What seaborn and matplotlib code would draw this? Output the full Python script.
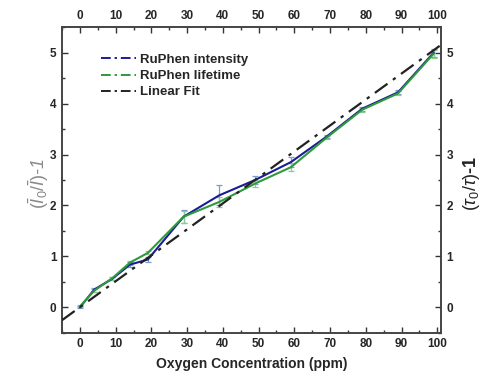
import matplotlib
matplotlib.use("Agg")
import matplotlib.pyplot as plt
import seaborn as sns
import numpy as np
import pandas as pd
from matplotlib.lines import Line2D
from matplotlib.ticker import MultipleLocator

# ---- data ----
oxygen_ppm = [0, 4, 9, 14, 19, 29, 39, 49, 59, 69, 79, 89, 99]
intensity = [0.0, 0.35, 0.56, 0.84, 0.94, 1.78, 2.20, 2.50, 2.85, 3.35, 3.90, 4.22, 5.00]
intensity_err = [0.02, 0.04, 0.03, 0.05, 0.04, 0.13, 0.20, 0.08, 0.10, 0.03, 0.04, 0.04, 0.08]
lifetime = [0.02, 0.33, 0.57, 0.88, 1.07, 1.78, 2.07, 2.43, 2.75, 3.33, 3.88, 4.20, 4.98]
lifetime_err = [0.02, 0.03, 0.03, 0.04, 0.03, 0.12, 0.10, 0.07, 0.08, 0.03, 0.04, 0.04, 0.08]
fit_x = [-5, 101]
fit_y = [-0.25, 5.15]
x_ticks = [0, 10, 20, 30, 40, 50, 60, 70, 80, 90, 100]
y_ticks = [0, 1, 2, 3, 4, 5]

sns.set_theme(style="ticks")
plt.rcParams['font.family'] = ['Liberation Sans', 'DejaVu Sans']
plt.rcParams['mathtext.fontset'] = 'custom'
plt.rcParams['mathtext.it'] = 'Liberation Sans:italic'
plt.rcParams['mathtext.rm'] = 'Liberation Sans'
plt.rcParams['mathtext.bf'] = 'Liberation Sans:bold'

fig = plt.figure(figsize=(4.85, 3.77), dpi=100)
ax = fig.add_axes([0.128, 0.117, 0.781, 0.811])

blue = "#1c1c96"
green = "#2e9a3a"

df = pd.DataFrame({"x": oxygen_ppm, "intensity": intensity, "lifetime": lifetime})

ax.errorbar(oxygen_ppm, intensity, yerr=intensity_err, fmt="none",
            ecolor="#7a9ad0", elinewidth=0.9, capsize=2.5, capthick=0.9, zorder=2)
ax.errorbar(oxygen_ppm, lifetime, yerr=lifetime_err, fmt="none",
            ecolor="#8ac89a", elinewidth=0.9, capsize=2.5, capthick=0.9, zorder=2)

sns.lineplot(data=df, x="x", y="intensity", ax=ax, color=blue, linewidth=1.5,
             zorder=3, legend=False)
sns.lineplot(data=df, x="x", y="lifetime", ax=ax, color=green, linewidth=1.5,
             zorder=3, legend=False)
sns.lineplot(x=fit_x, y=fit_y, ax=ax, color="#222222", linewidth=1.6,
             dashes=False, zorder=4, legend=False)
ax.lines[-1].set_dashes([7, 3, 1.5, 3])

ax.set_xlim(-5, 101)
ax.set_ylim(-0.5, 5.5)
ax.set_xticks(x_ticks)
ax.set_yticks(y_ticks)
ax.xaxis.set_minor_locator(MultipleLocator(5))
ax.yaxis.set_minor_locator(MultipleLocator(0.5))

ax.tick_params(which="both", direction="in", top=True, right=True,
               labeltop=True, labelright=True, color="#333333")
ax.tick_params(which="major", length=4, width=1.0, labelsize=8.5, pad=4)
ax.tick_params(which="minor", length=2.5, width=1.0)
for t in ax.xaxis.get_major_ticks():
    t.label1.set_fontweight("bold"); t.label2.set_fontweight("bold")
for t in ax.yaxis.get_major_ticks():
    t.label1.set_fontweight("bold"); t.label2.set_fontweight("bold")

for s in ax.spines.values():
    s.set_linewidth(1.4)
    s.set_color("#444444")

ax.set_xlabel("Oxygen Concentration (ppm)", fontsize=10, fontweight="bold", labelpad=5)
ax.set_ylabel("")
ax.text(-0.062, 0.49, r"$(\bar{I}_0/\bar{I})$-1", transform=ax.transAxes,
        rotation=90, va="center", ha="center", fontsize=13, color="#8a8a8a",
        style="italic")
ax.text(1.08, 0.49, r"$(\tau_0/\tau)$-1", transform=ax.transAxes,
        rotation=90, va="center", ha="center", fontsize=13, color="#222222",
        fontweight="bold")

handles = [
    Line2D([0], [0], color=blue, lw=1.4, dashes=[5, 2, 1.2, 2]),
    Line2D([0], [0], color=green, lw=1.4, dashes=[5, 2, 1.2, 2]),
    Line2D([0], [0], color="#222222", lw=1.4, dashes=[5, 2, 1.2, 2]),
]
ax.legend(handles, ["RuPhen intensity", "RuPhen lifetime", "Linear Fit"],
          loc="upper left", bbox_to_anchor=(0.09, 0.93), frameon=False,
          prop={"weight": "bold", "size": 9.5}, handlelength=2.6,
          handletextpad=0.3, labelspacing=0.3, borderaxespad=0)

fig.savefig("out.png", dpi=100)
